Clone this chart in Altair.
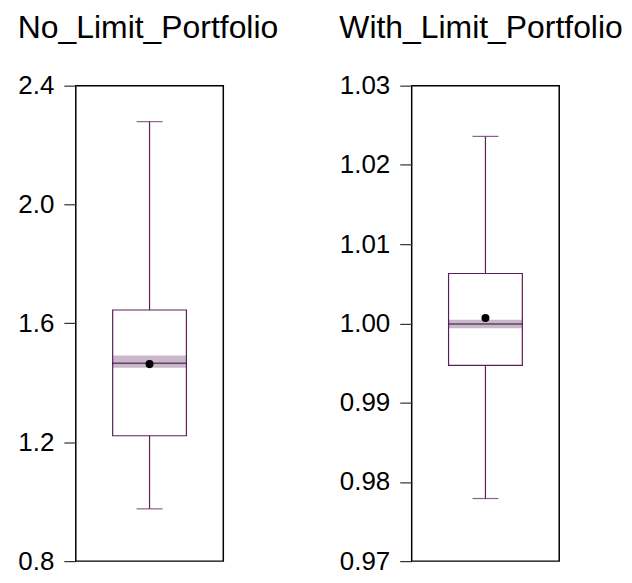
import altair as alt
import pandas as pd

# --- data ---
names = ["No_Limit_Portfolio", "With_Limit_Portfolio"]
whisker_low = [0.976, 0.9779]
q1 = [1.222, 0.9947]
median = [1.466, 0.99993]
q3 = [1.645, 1.0063]
whisker_high = [2.279, 1.0236]
ci_low = [1.451, 0.9994]
ci_high = [1.492, 1.00047]
mean = [1.463, 1.00067]

y_domains = [[0.8, 2.4], [0.97, 1.03]]
y_ticks = [[0.8, 1.2, 1.6, 2.0, 2.4], [0.97, 0.98, 0.99, 1.00, 1.01, 1.02, 1.03]]
y_formats = [".1f", ".2f"]

FONT = "Liberation Sans"
LINE = "#5b1f5b"
BAND = "#cbb7cb"

df = pd.DataFrame({
    "name": names, "lo": whisker_low, "q1": q1, "med": median, "q3": q3,
    "hi": whisker_high, "cil": ci_low, "cih": ci_high, "mean": mean,
})


def panel(i):
    d = df[df["name"] == names[i]]
    base = alt.Chart(d)
    x = alt.X("name:N", axis=None)
    ysc = alt.Scale(domain=y_domains[i], nice=False, zero=False)
    yax = alt.Axis(values=y_ticks[i], format=y_formats[i], title=None, grid=False,
                   domain=False, tickSize=12, tickColor="#333333", tickWidth=1.2,
                   labelFontSize=26, labelFont=FONT, labelColor="black",
                   labelPadding=10)
    whisk = base.mark_rule(color=LINE, strokeWidth=1.2).encode(
        x=x, y=alt.Y("lo:Q", scale=ysc, axis=yax), y2="hi:Q")
    cap_lo = base.mark_tick(color=LINE, size=26, thickness=1.2, orient="horizontal").encode(
        x=x, y=alt.Y("lo:Q"))
    cap_hi = base.mark_tick(color=LINE, size=26, thickness=1.2, orient="horizontal").encode(
        x=x, y=alt.Y("hi:Q"))
    box_fill = base.mark_bar(size=74, color="white").encode(x=x, y="q1:Q", y2="q3:Q")
    band = base.mark_bar(size=74, color=BAND).encode(x=x, y="cil:Q", y2="cih:Q")
    box_line = base.mark_bar(size=74, fill=None, fillOpacity=0, stroke=LINE, strokeWidth=1.2).encode(
        x=x, y="q1:Q", y2="q3:Q")
    med = base.mark_tick(color="#2a1a2a", size=75, thickness=1.5, orient="horizontal").encode(
        x=x, y="med:Q")
    mn = base.mark_point(filled=True, color="black", size=65, opacity=1, shape="circle").encode(
        x=x, y="mean:Q")
    return alt.layer(whisk, cap_lo, cap_hi, box_fill, band, box_line, med, mn).properties(
        width=148, height=477,
        title=alt.TitleParams(names[i], anchor="start", frame="bounds", fontSize=32,
                              font=FONT, fontWeight="normal", color="black", offset=28),
    )


chart = alt.hconcat(panel(0), panel(1), spacing=58).properties(
    padding={"left": 9, "top": 2, "right": 0, "bottom": 0},
    background="white",
).configure_view(stroke="black", strokeWidth=1.5)

chart.save("out.html", embed_options={"renderer": "svg", "actions": False})
